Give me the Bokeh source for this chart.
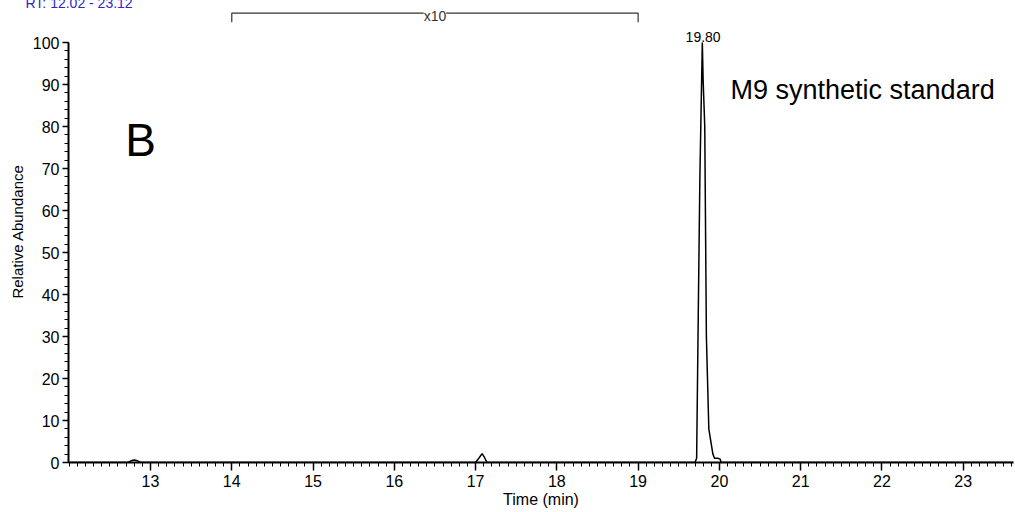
from bokeh.plotting import figure
from bokeh.models import FixedTicker, Label, Range1d, Title
from bokeh.embed import file_html
from bokeh.resources import INLINE
import numpy as np

# ---- data ----
time_min = [12.00, 12.72, 12.76, 12.80, 12.84, 12.88,
            17.00, 17.04, 17.08, 17.11, 17.14,
            19.70, 19.72, 19.74, 19.76, 19.79, 19.80, 19.82, 19.84,
            19.87, 19.92, 19.94, 19.98, 20.01, 20.02, 23.62]
rel_abundance = [0.0, 0.0, 0.4, 0.6, 0.4, 0.0,
                 0.0, 1.0, 2.1, 1.2, 0.0,
                 0.0, 1.0, 35.0, 68.0, 100.0, 91.0, 80.0, 30.0,
                 8.0, 2.0, 1.0, 1.0, 0.8, 0.0, 0.0]

x_tick_values = [13, 14, 15, 16, 17, 18, 19, 20, 21, 22, 23]
y_tick_values = [0, 10, 20, 30, 40, 50, 60, 70, 80, 90, 100]

peak_rt = 19.80
peak_label = "19.80"
zoom_start = 14.0
zoom_end = 19.0
zoom_label = "x10"
panel_letter = "B"
sample_name = "M9 synthetic standard"
rt_range_text = "RT: 12.02 - 23.12"
x_title = "Time (min)"
y_title = "Relative Abundance"

FONT = "Liberation Sans"

p = figure(width=1015, height=512, output_backend="svg", toolbar_location=None,
           x_range=Range1d(11.991, 23.619), y_range=Range1d(0, 110.0),
           min_border_left=68, min_border_right=2, min_border_top=0,
           min_border_bottom=50)
p.xgrid.visible = False
p.ygrid.visible = False
p.outline_line_color = None
p.background_fill_color = "white"
p.border_fill_color = "white"

# RT range heading (cut off at the top edge in the reference)
p.add_layout(Title(text=rt_range_text, align="left", offset=-43, standoff=-20,
                   vertical_align="bottom", text_font=FONT,
                   text_font_size="14px", text_font_style="normal",
                   text_color="#2a2acc"), "above")

# y axis
ya = p.yaxis[0]
ya.ticker = FixedTicker(ticks=y_tick_values, minor_ticks=list(range(0, 101, 2)))
ya.bounds = (0, 100)
ya.axis_label = y_title
ya.axis_label_text_font = FONT
ya.axis_label_text_font_size = "15px"
ya.axis_label_text_font_style = "normal"
ya.axis_label_text_color = "black"
ya.axis_label_standoff = 4
ya.major_label_text_font = FONT
ya.major_label_text_font_size = "16px"
ya.major_label_text_color = "black"
ya.major_label_standoff = 3
ya.axis_line_width = 2
ya.axis_line_color = "black"
ya.major_tick_out = 6
ya.major_tick_in = 0
ya.minor_tick_out = 4
ya.minor_tick_in = 0
ya.major_tick_line_width = 1.5
ya.major_tick_line_color = "black"
ya.minor_tick_line_color = "black"

# x axis
xa = p.xaxis[0]
xa.ticker = FixedTicker(ticks=x_tick_values,
                        minor_ticks=np.round(np.arange(12.0, 23.65, 0.1), 2).tolist())
xa.axis_label = x_title
xa.axis_label_text_font = FONT
xa.axis_label_text_font_size = "16px"
xa.axis_label_text_font_style = "normal"
xa.axis_label_text_color = "black"
xa.axis_label_standoff = 1
xa.major_label_text_font = FONT
xa.major_label_text_font_size = "16px"
xa.major_label_text_color = "black"
xa.major_label_standoff = 4
xa.axis_line_width = 2
xa.axis_line_color = "black"
xa.major_tick_out = 8
xa.major_tick_in = 0
xa.minor_tick_out = 4
xa.minor_tick_in = 0
xa.major_tick_line_width = 1.5
xa.major_tick_line_color = "black"
xa.minor_tick_line_color = "black"

# trace
p.line(time_min, rel_abundance, line_color="black", line_width=1.5)

# x10 bracket
p.line([zoom_start, zoom_start, zoom_end, zoom_end], [104.8, 107.0, 107.0, 104.8],
       line_color="#333333", line_width=1.2)
p.add_layout(Label(x=(zoom_start + zoom_end) / 2, y=106.3, text=zoom_label,
                   text_align="center", text_baseline="middle",
                   text_font=FONT, text_font_size="14px", text_color="#333333",
                   background_fill_color="white"))

# peak label
p.add_layout(Label(x=peak_rt, y=101.4, text=peak_label, text_align="center",
                   text_baseline="alphabetic", text_font=FONT,
                   text_font_size="14px", text_color="black"))

# panel letter and sample name
p.add_layout(Label(x=12.69, y=76.7, text=panel_letter, text_align="left",
                   text_baseline="alphabetic", text_font=FONT,
                   text_font_size="46px", text_color="black"))
p.add_layout(Label(x=20.137, y=88.6, text=sample_name, text_align="left",
                   text_baseline="alphabetic", text_font=FONT,
                   text_font_size="27px", text_color="black"))

open("out.html", "w").write(file_html(p, INLINE))
